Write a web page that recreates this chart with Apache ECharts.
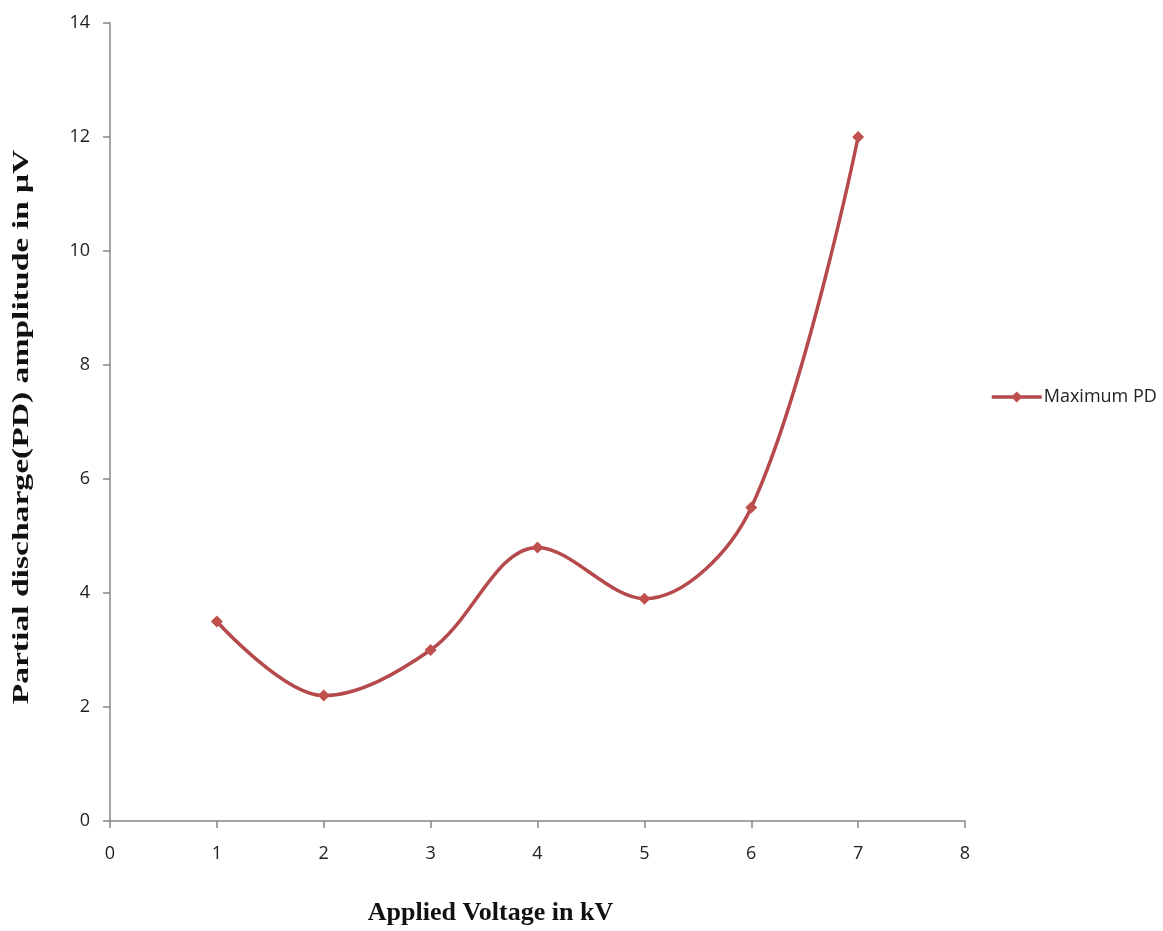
<!DOCTYPE html>
<html>
<head>
<meta charset="utf-8">
<script src="https://cdn.jsdelivr.net/npm/echarts@6/dist/echarts.min.js"></script>
<style>
html,body{margin:0;padding:0;background:#fff;}
#chart{width:1163px;height:931px;}
</style>
</head>
<body>
<div id="chart"></div>
<script>
const voltages = [1, 2, 3, 4, 5, 6, 7];
const maxPD = [3.5, 2.2, 3.0, 4.8, 3.9, 5.5, 12.0];
const seriesName = 'Maximum PD';
const xTitle = 'Applied Voltage in kV';
const yTitle = 'Partial discharge(PD) amplitude in \u03bcV';

const chart = echarts.init(document.getElementById('chart'), null, {renderer: 'canvas'});
const axisColor = '#868686';
const tickFont = {color: '#222', fontSize: 18, fontFamily: 'Open Sans, Liberation Sans, sans-serif'};
const titleFont = 'Liberation Serif, Times New Roman, serif';
chart.setOption({
  animation: false,
  backgroundColor: '#fff',
  grid: {left: 110, right: 198, top: 23, bottom: 110, containLabel: false},
  legend: {
    left: 990, top: 388, orient: 'vertical', padding: 0,
    itemWidth: 50, itemHeight: 14, itemGap: 10,
    lineStyle: {width: 3.5},
    textStyle: {color: '#222', fontSize: 18, fontFamily: 'Open Sans, Liberation Sans, sans-serif', padding: [0, 0, 0, -3]},
    data: [seriesName]
  },
  graphic: [{
    type: 'text',
    x: 22, y: 427,
    rotation: Math.PI / 2,
    scaleX: 1.4,
    style: {
      text: yTitle,
      fontFamily: titleFont, fontWeight: 'bold', fontSize: 24, fill: '#111',
      textAlign: 'center', textVerticalAlign: 'middle', verticalAlign: 'middle', align: 'center'
    }
  }],
  xAxis: {
    type: 'value', min: 0, max: 8, interval: 1,
    name: xTitle, nameLocation: 'middle', nameGap: 79,
    nameTextStyle: {fontFamily: titleFont, fontWeight: 'bold', fontSize: 26, color: '#111', padding: [0, 94, 0, 0]},
    axisLine: {lineStyle: {color: axisColor, width: 1.5}},
    axisTick: {inside: false, length: 7, lineStyle: {color: axisColor, width: 1.5}},
    axisLabel: Object.assign({margin: 24}, tickFont),
    splitLine: {show: false}
  },
  yAxis: {
    type: 'value', min: 0, max: 14, interval: 2,
    axisLine: {show: true, lineStyle: {color: axisColor, width: 1.5}},
    axisTick: {show: true, inside: false, length: 7, lineStyle: {color: axisColor, width: 1.5}},
    axisLabel: Object.assign({margin: 20}, tickFont),
    splitLine: {show: false}
  },
  series: [{
    name: seriesName,
    type: 'line',
    smooth: 0.35,
    data: voltages.map((v, i) => [v, maxPD[i]]),
    symbol: 'diamond', symbolSize: 12,
    lineStyle: {color: '#B5494B', width: 3.5},
    itemStyle: {color: '#C0504D'}
  }]
});
</script>
</body>
</html>
